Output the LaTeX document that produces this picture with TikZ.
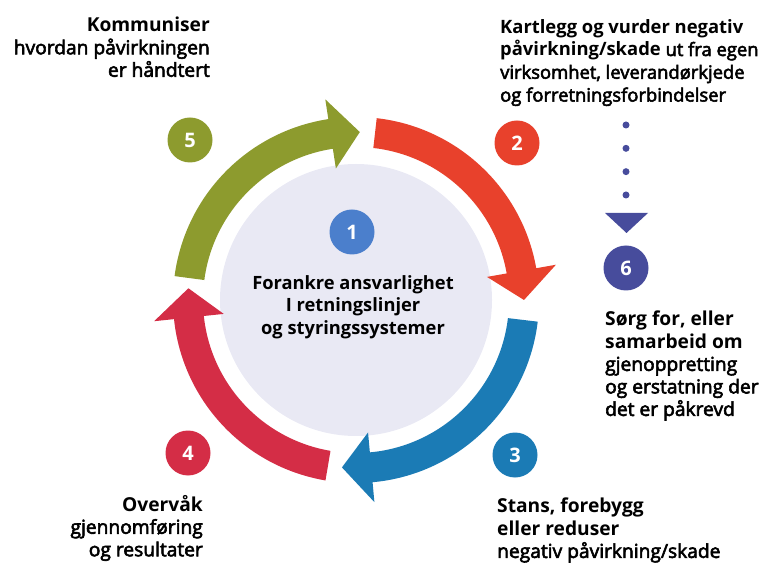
\documentclass[tikz,border=0pt]{standalone}
\usepackage{fontspec}
\setmainfont{Open Sans}
\newfontfamily\semib{Open Sans}[FakeBold=3]
\newcommand\bl[1]{{\normalfont\bfseries #1}}
\usetikzlibrary{calc}
\definecolor{cgreen}{HTML}{8D9B2E}
\definecolor{cred}{HTML}{E8412C}
\definecolor{cblue}{HTML}{1B7BB5}
\definecolor{ccrim}{HTML}{D42D46}
\definecolor{cone}{HTML}{4B7FCC}
\definecolor{csix}{HTML}{474C9C}
\definecolor{clight}{HTML}{E9E9F4}
\newcommand\myringarrow[3]{%
  \begin{scope}[shift={(C)}]
    \fill[#1] (#2:183) arc[start angle=#2, end angle=#3+10, radius=183]
      -- (#3+10:203) -- (#3:168) -- (#3+10:133) -- (#3+10:153)
      arc[start angle=#3+10, end angle=#2, radius=153] -- cycle;
  \end{scope}}
\begin{document}
\begin{tikzpicture}[x=1pt,y=1pt,
  badge/.style={circle, fill=#1, minimum size=45pt, inner sep=0pt, text=white,
    font=\fontsize{20}{20}\selectfont\bfseries},
  txt/.style={inner sep=0pt, font=\fontsize{19.2}{22.5}\selectfont\semib},
  ctxt/.style={inner sep=0pt, align=center, font=\fontsize{18.3}{22.5}\selectfont\bfseries},
  dotline/.style={csix, line width=7pt, line cap=round, dash pattern=on 0pt off 23.33pt},
]
\useasboundingbox (0,0) rectangle (767,562);
\coordinate (C) at (356,262);
\fill[clight] (C) circle[radius=136];

\myringarrow{cgreen}{172.5}{88.7}
\myringarrow{cred}{83.5}{0}
\myringarrow{cblue}{-6.8}{-94.8}
\myringarrow{ccrim}{260.4}{176}

\node[badge=cone]  (b1) at (352,330) {1};
\node[badge=cred]  (b2) at (517,419) {2};
\node[badge=cblue] (b3) at (515,107) {3};
\node[badge=ccrim] (b4) at (188,109) {4};
\node[badge=cgreen](b5) at (190,422) {5};
\node[badge=csix]  (b6) at (626,294) {6};

\node[ctxt, anchor=north] (t1) at (353,287)
  {Forankre ansvarlighet\\I retningslinjer\\og styringssystemer};
\node[txt, align=right, anchor=north east] (t5) at (210,545)
  {\bl{Kommuniser}\\hvordan påvirkningen\\er håndtert};
\node[txt, align=left, anchor=north west, font=\fontsize{18.4}{22.8}\selectfont\semib] (t2) at (500,543)
  {\bl{Kartlegg og vurder negativ}\\\bl{påvirkning/skade} ut fra egen\\virksomhet, leverandørkjede\\og forretningsforbindelser};
\node[txt, align=left, anchor=north west] (t6) at (605,251)
  {\bl{Sørg for, eller}\\\bl{samarbeid om}\\gjenoppretting\\og erstatning der\\det er påkrevd};
\node[txt, align=right, anchor=north east] (t4) at (203,67)
  {\bl{Overvåk}\\gjennomføring\\og resultater};
\node[txt, align=left, anchor=north west] (t3) at (497,64)
  {\bl{Stans, forebygg}\\\bl{eller reduser}\\negativ påvirkning/skade};

\coordinate (d1) at (626,437);
\coordinate (d4) at (626,367);
\coordinate (ta) at (605,349);
\coordinate (tb) at (648,349);
\coordinate (tc) at (626.5,329);
\draw[dotline] (d1) -- (d4);
\fill[csix] (ta) -- (tb) -- (tc) -- cycle;
\end{tikzpicture}
\end{document}
